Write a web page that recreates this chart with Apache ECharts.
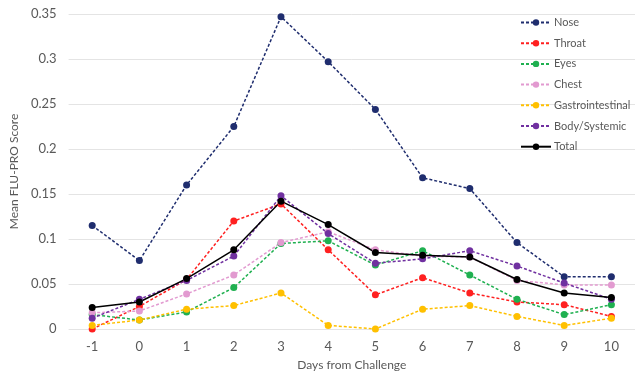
<!DOCTYPE html>
<html>
<head>
<meta charset="utf-8">
<script src="https://cdn.jsdelivr.net/npm/echarts@6/dist/echarts.min.js"></script>
<style>
html,body{margin:0;padding:0;background:#fff;}
#chart{width:635px;height:376px;}
</style>
</head>
<body>
<div id="chart"></div>
<script>
var categories = ['-1','0','1','2','3','4','5','6','7','8','9','10'];
var nose   = [0.115, 0.076, 0.160, 0.225, 0.347, 0.297, 0.244, 0.168, 0.156, 0.096, 0.058, 0.058];
var throat = [0.000, 0.025, 0.055, 0.120, 0.139, 0.088, 0.038, 0.057, 0.040, 0.030, 0.027, 0.014];
var eyes   = [0.016, 0.010, 0.019, 0.046, 0.095, 0.098, 0.071, 0.087, 0.060, 0.033, 0.016, 0.027];
var chest  = [0.018, 0.020, 0.039, 0.060, 0.096, 0.108, 0.088, 0.081, 0.080, 0.054, 0.049, 0.049];
var gastro = [0.004, 0.010, 0.022, 0.026, 0.040, 0.004, 0.000, 0.022, 0.026, 0.014, 0.004, 0.012];
var body   = [0.012, 0.033, 0.054, 0.081, 0.148, 0.106, 0.073, 0.078, 0.087, 0.070, 0.051, 0.033];
var total  = [0.024, 0.030, 0.056, 0.088, 0.142, 0.116, 0.085, 0.082, 0.080, 0.055, 0.040, 0.035];

var seriesDefs = [
  {name:'Nose', data:nose, color:'#1f2d6e', dashed:true},
  {name:'Throat', data:throat, color:'#ff2020', dashed:true},
  {name:'Eyes', data:eyes, color:'#1fb050', dashed:true},
  {name:'Chest', data:chest, color:'#e29ad0', dashed:true},
  {name:'Gastrointestinal', data:gastro, color:'#ffc000', dashed:true},
  {name:'Body/Systemic', data:body, color:'#7030a0', dashed:true},
  {name:'Total', data:total, color:'#000000', dashed:false}
];

var FONT = 'Lato';
var chart = echarts.init(document.getElementById('chart'), null, {renderer:'canvas'});
chart.setOption({
  animation:false,
  backgroundColor:'#ffffff',
  textStyle:{fontFamily:FONT},
  grid:{left:59, right:0, top:14, bottom:46},
  legend:{
    orient:'vertical', left:520, top:16, padding:0, itemGap:7.7, itemWidth:30, itemHeight:8,
    textStyle:{fontSize:11, color:'#595959', fontFamily:FONT, padding:[0,0,0,-2], lineHeight:13},
    data: seriesDefs.map(function(s){return s.name;})
  },
  xAxis:{
    type:'category', data:categories, boundaryGap:true,
    axisLine:{show:false}, axisTick:{show:false},
    axisLabel:{color:'#595959', fontSize:13, margin:11},
    name:'Days from Challenge', nameLocation:'middle', nameGap:30,
    nameTextStyle:{color:'#595959', fontSize:12}
  },
  yAxis:{
    type:'value', min:0, max:0.35, interval:0.05,
    axisLine:{show:false}, axisTick:{show:false},
    axisLabel:{color:'#595959', fontSize:13, margin:12},
    splitLine:{lineStyle:{color:'#e4e4e4', width:1}},
    name:'Mean FLU-PRO Score', nameLocation:'middle', nameGap:41,
    nameTextStyle:{color:'#595959', fontSize:12}
  },
  series: seriesDefs.map(function(s){
    return {
      name:s.name, type:'line', data:s.data,
      symbol:'circle', symbolSize:7,
      itemStyle:{color:s.color},
      lineStyle:{color:s.color, width:1.5, type: s.dashed ? [3,2] : 'solid'},
      emphasis:{disabled:true}
    };
  })
});
</script>
</body>
</html>
